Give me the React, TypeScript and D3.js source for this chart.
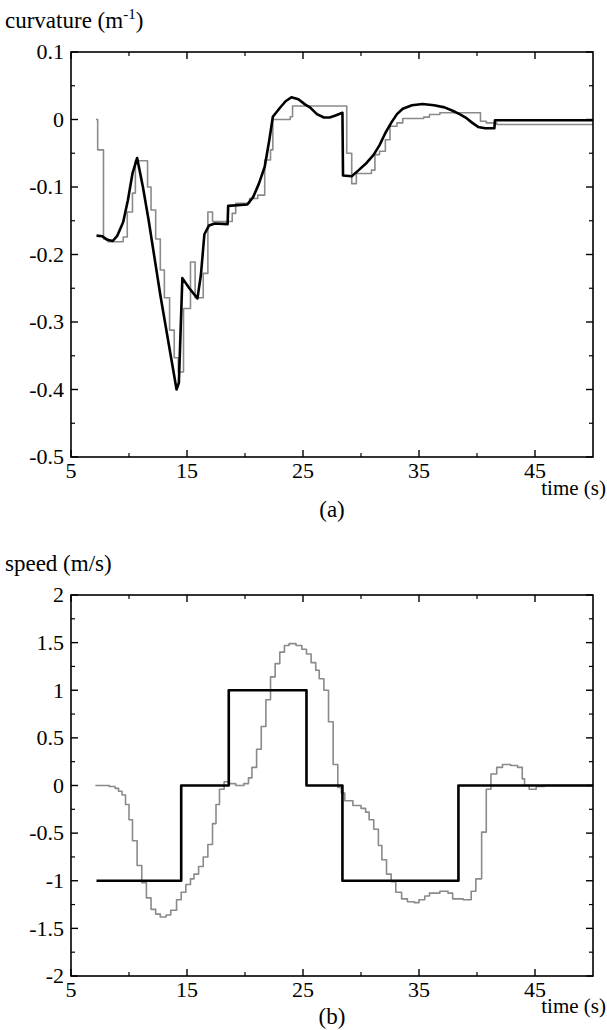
import React from 'react';
import * as d3 from 'd3';

const W = 607;
const H = 1030;

// time axis shared by both panels
const timeDomain = [5, 50];
const timeMajor = [5, 15, 25, 35, 45];
const timeMinor = [10, 20, 30, 40];

// (a) curvature, black = measured, gray = command (stepped)
const curvBlackT = [7.2, 7.7, 8.1, 8.6, 9.0, 9.5, 9.9, 10.3, 10.7, 11.2, 11.7, 12.2, 12.7, 13.2, 13.7, 14.1, 14.3, 14.6, 15.2, 15.9, 16.2, 16.5, 16.9, 17.4, 18.5, 18.55, 20.2, 20.7, 21.2, 21.7, 22.1, 22.4, 23.0, 23.5, 24.0, 24.6, 25.2, 25.6, 26.2, 26.8, 27.3, 27.8, 28.4, 28.45, 29.2, 29.8, 30.5, 31.1, 31.6, 32.1, 32.6, 33.1, 33.6, 34.4, 35.3, 36.3, 37.2, 37.9, 38.5, 39.1, 39.6, 40.1, 40.7, 41.5, 41.55, 50];
const curvBlackV = [-0.172, -0.173, -0.178, -0.18, -0.172, -0.152, -0.12, -0.08, -0.057, -0.1, -0.15, -0.205, -0.26, -0.31, -0.36, -0.4, -0.39, -0.235, -0.25, -0.265, -0.23, -0.17, -0.157, -0.154, -0.155, -0.128, -0.126, -0.115, -0.095, -0.07, -0.03, 0.004, 0.017, 0.027, 0.033, 0.03, 0.022, 0.018, 0.008, 0.003, 0.003, 0.006, 0.01, -0.083, -0.084, -0.075, -0.064, -0.052, -0.038, -0.02, -0.005, 0.008, 0.016, 0.021, 0.023, 0.021, 0.018, 0.013, 0.008, 0.002, -0.005, -0.011, -0.013, -0.013, -0.001, -0.001];
const curvGrayT = [7.15, 7.3, 7.8, 8.2, 9.5, 9.85, 10.3, 10.55, 11.6, 11.9, 12.3, 12.7, 13.05, 13.5, 13.9, 14.25, 14.7, 15.3, 15.7, 16.4, 16.8, 17.2, 18.9, 19.2, 20.4, 21.1, 21.7, 22.2, 22.4, 23.9, 24.1, 28.77, 29.2, 29.6, 30.9, 31.2, 31.6, 32.1, 32.5, 33.1, 33.6, 35.4, 35.9, 36.8, 40.3, 40.8, 41.7, 50];
const curvGrayV = [0, -0.045, -0.177, -0.181, -0.174, -0.137, -0.109, -0.061, -0.1, -0.134, -0.177, -0.223, -0.264, -0.312, -0.353, -0.374, -0.28, -0.211, -0.264, -0.228, -0.137, -0.151, -0.139, -0.124, -0.117, -0.112, -0.06, -0.045, 0, 0.004, 0.02, -0.05, -0.095, -0.08, -0.075, -0.052, -0.047, -0.03, -0.01, -0.005, 0.0015, 0.0035, 0.0075, 0.01, -0.0025, -0.005, -0.0075, -0.0075];
const curvMajor = [0.1, 0, -0.1, -0.2, -0.3, -0.4, -0.5];
const curvMinor = [0.05, -0.05, -0.15, -0.25, -0.35, -0.45];

// (b) speed, black = command, gray = measured (stepped)
const speedBlackT = [7.2, 14.5, 18.6, 25.3, 28.4, 38.4, 50];
const speedBlackV = [-1, 0, 1, 0, -1, 0, 0];
const speedGrayT = [7.1, 8.3, 8.8, 9.1, 9.4, 9.7, 10.0, 10.3, 10.7, 11.1, 11.5, 11.9, 12.3, 12.7, 13.2, 13.6, 14.1, 14.5, 14.9, 15.3, 15.6, 16.0, 16.4, 16.8, 17.2, 17.5, 17.8, 18.2, 18.6, 19.2, 19.9, 20.3, 20.6, 21.0, 21.4, 21.8, 22.2, 22.6, 23.0, 23.4, 23.8, 24.4, 24.9, 25.3, 25.7, 26.1, 26.4, 26.8, 27.2, 27.6, 28.0, 28.3, 28.6, 29.3, 30.0, 30.4, 30.7, 31.1, 31.5, 31.8, 32.2, 32.6, 33.0, 33.5, 34.0, 34.6, 35.0, 35.5, 35.9, 36.8, 37.5, 37.9, 38.8, 39.5, 39.9, 40.4, 40.8, 41.2, 41.7, 42.2, 42.9, 43.5, 43.9, 44.1, 44.5, 45.1, 45.8, 50];
const speedGrayV = [0, -0.01, -0.03, -0.06, -0.1, -0.2, -0.36, -0.58, -0.84, -1.02, -1.18, -1.3, -1.35, -1.38, -1.36, -1.31, -1.2, -1.12, -1.04, -0.98, -0.93, -0.85, -0.75, -0.62, -0.4, -0.2, -0.04, 0.04, 0.02, 0, 0.02, 0.08, 0.19, 0.38, 0.62, 0.9, 1.14, 1.28, 1.4, 1.47, 1.49, 1.47, 1.43, 1.38, 1.29, 1.21, 1.12, 1.0, 0.67, 0.22, -0.02, -0.08, -0.16, -0.21, -0.24, -0.28, -0.36, -0.46, -0.63, -0.78, -0.93, -1.01, -1.12, -1.19, -1.22, -1.23, -1.2, -1.16, -1.13, -1.11, -1.13, -1.19, -1.2, -1.11, -0.98, -0.49, -0.04, 0.12, 0.19, 0.22, 0.21, 0.19, 0.07, 0, -0.04, -0.01, 0, 0];
const speedMajor = [2, 1.5, 1, 0.5, 0, -0.5, -1, -1.5, -2];
const speedMinor = [1.75, 1.25, 0.75, 0.25, -0.25, -0.75, -1.25, -1.75];

const FONT = "'Liberation Serif', 'DejaVu Serif', serif";
const TICK_FS = 22;
const LABEL_FS = 23;

type Series = { t: number[]; v: number[]; color: string; width: number; step: boolean };

function Panel({ top, bottom, yDomain, major, minor, series, yLabel, tag, timeDy, tagDy }: {
  top: number; bottom: number; yDomain: [number, number]; major: number[]; minor: number[];
  series: Series[]; yLabel: React.ReactNode; tag: string; timeDy: number; tagDy: number;
}) {
  const x = d3.scaleLinear().domain(timeDomain).range([71, 593]);
  const y = d3.scaleLinear().domain(yDomain).range([bottom, top]);
  const [x0, x1] = x.range();

  const lines = series.map(s => {
    const gen = d3.line<number>()
      .x(i => x(s.t[i]))
      .y(i => y(s.v[i]))
      .curve(s.step ? d3.curveStepAfter : d3.curveLinear);
    return { d: gen(d3.range(s.t.length)) || '', s };
  });

  const majLen = 7, minLen = 4;

  return (
    <g style={{ fontFamily: FONT }}>
      {yLabel}
      {lines.map((l, i) => (
        <path key={i} d={l.d} fill="none" stroke={l.s.color} strokeWidth={l.s.width} strokeLinejoin="round" />
      ))}
      <rect x={x0} y={top} width={x1 - x0} height={bottom - top} fill="none" stroke="#000" strokeWidth={1.6} />
      {timeMajor.map(t => (
        <g key={'xm' + t}>
          <line x1={x(t)} x2={x(t)} y1={bottom} y2={bottom - majLen} stroke="#000" strokeWidth={1.4} />
          <line x1={x(t)} x2={x(t)} y1={top} y2={top + majLen} stroke="#000" strokeWidth={1.4} />
          <text x={x(t)} y={bottom + 21} fontSize={TICK_FS} textAnchor="middle">{t}</text>
        </g>
      ))}
      {timeMinor.map(t => (
        <g key={'xn' + t}>
          <line x1={x(t)} x2={x(t)} y1={bottom} y2={bottom - minLen} stroke="#000" strokeWidth={1.2} />
          <line x1={x(t)} x2={x(t)} y1={top} y2={top + minLen} stroke="#000" strokeWidth={1.2} />
        </g>
      ))}
      {major.map(v => (
        <g key={'ym' + v}>
          <line x1={x0} x2={x0 + majLen} y1={y(v)} y2={y(v)} stroke="#000" strokeWidth={1.4} />
          <line x1={x1} x2={x1 - majLen} y1={y(v)} y2={y(v)} stroke="#000" strokeWidth={1.4} />
          <text x={x0 - 7} y={y(v)} dy="0.33em" fontSize={TICK_FS} textAnchor="end">{String(v)}</text>
        </g>
      ))}
      {minor.map(v => (
        <g key={'yn' + v}>
          <line x1={x0} x2={x0 + minLen} y1={y(v)} y2={y(v)} stroke="#000" strokeWidth={1.2} />
          <line x1={x1} x2={x1 - minLen} y1={y(v)} y2={y(v)} stroke="#000" strokeWidth={1.2} />
        </g>
      ))}
      <text x={606} y={bottom + timeDy} fontSize={21} textAnchor="end">time (s)</text>
      <text x={(x0 + x1) / 2} y={bottom + tagDy} fontSize={LABEL_FS} textAnchor="middle">{tag}</text>
    </g>
  );
}

export default function App() {
  return (
    <div style={{ position: 'absolute', left: 0, top: 0, width: W, height: H, background: '#fff' }}>
      <svg width={W} height={H} style={{ display: 'block' }}>
        <Panel
          top={52} bottom={457} yDomain={[-0.5, 0.1]}
          major={curvMajor} minor={curvMinor}
          series={[
            { t: curvGrayT, v: curvGrayV, color: '#8a8a8a', width: 1.6, step: true },
            { t: curvBlackT, v: curvBlackV, color: '#000', width: 2.6, step: false },
          ]}
          yLabel={
            <text x={5} y={28} fontSize={LABEL_FS}>
              curvature (m<tspan dy={-9} fontSize={15}>-1</tspan><tspan dy={9}>)</tspan>
            </text>
          }
          tag="(a)"
          timeDy={38}
          tagDy={60}
        />
        <Panel
          top={595} bottom={976} yDomain={[-2, 2]}
          major={speedMajor} minor={speedMinor}
          series={[
            { t: speedGrayT, v: speedGrayV, color: '#8a8a8a', width: 1.6, step: true },
            { t: speedBlackT, v: speedBlackV, color: '#000', width: 2.6, step: true },
          ]}
          yLabel={<text x={5} y={571} fontSize={LABEL_FS}>speed (m/s)</text>}
          tag="(b)"
          timeDy={37}
          tagDy={48}
        />
      </svg>
    </div>
  );
}
